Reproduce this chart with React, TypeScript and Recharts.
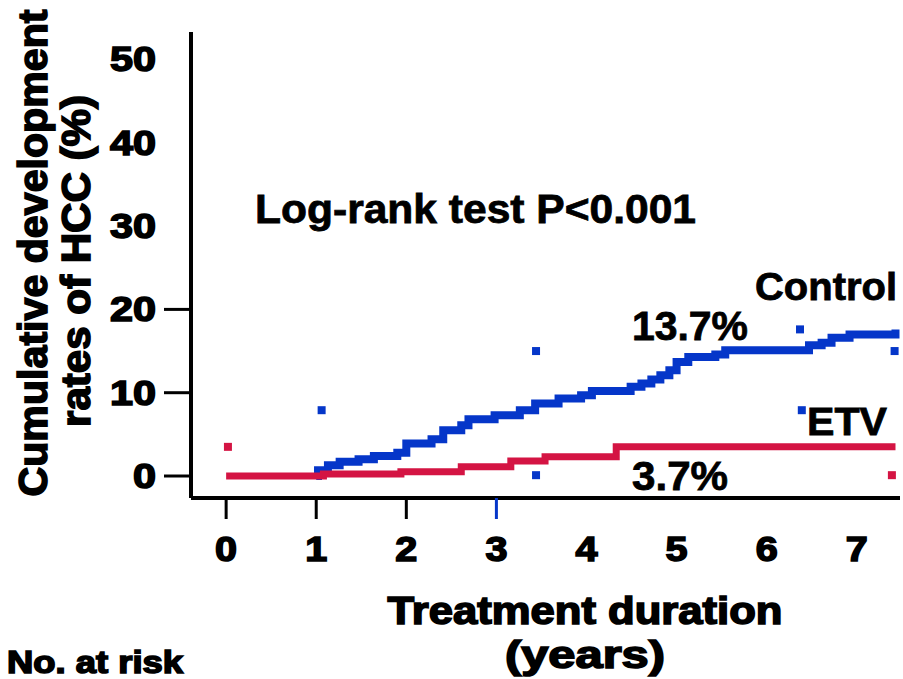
import { ComposedChart, Line, Scatter, XAxis, YAxis } from "recharts";

const BLUE = "#0536c9";
const RED = "#d41443";
const FONT = "'Liberation Sans', Arial, sans-serif";

// axis ticks
const xTicks = [0, 1, 2, 3, 4, 5, 6, 7];
const yTicks = [0, 10, 20, 30, 40, 50];

// Control group cumulative incidence (years, %)
const controlYears = [1.0, 1.02, 1.13, 1.26, 1.47, 1.64, 1.9, 2.0, 2.28, 2.41, 2.61, 2.69, 2.98, 3.26, 3.43, 3.69, 3.94, 4.06, 4.49, 4.61, 4.72, 4.82, 4.92, 5.0, 5.13, 5.43, 5.54, 6.41, 6.47, 6.61, 6.72, 6.92, 7.36, 7.43];
const controlRates = [0, 0.7, 1.3, 1.7, 2.0, 2.4, 2.8, 3.9, 4.4, 5.5, 6.1, 6.8, 7.3, 7.9, 8.7, 9.3, 9.7, 10.2, 10.7, 11.1, 11.6, 12.1, 12.7, 13.7, 14.3, 14.6, 15.1, 15.1, 15.7, 16.0, 16.6, 17.0, 17.0, 17.6];

// ETV group cumulative incidence (years, %)
const etvYears = [0, 1.08, 1.94, 2.61, 3.16, 3.54, 4.33, 7.43];
const etvRates = [0, 0.25, 0.5, 1.1, 1.8, 2.3, 3.5, 3.5];

// stray square markers
const controlMarkYears = [1.06, 3.44, 3.44, 6.37, 6.39, 7.42];
const controlMarkRates = [7.9, 15.0, 0.1, 17.6, 7.9, 15.0];
const etvMarkYears = [0.02, 7.39];
const etvMarkRates = [3.5, 0.1];

const control = controlYears.map((t, i) => ({ t, v: controlRates[i] }));
const etv = etvYears.map((t, i) => ({ t, v: etvRates[i] }));
const controlMarks = controlMarkYears.map((t, i) => ({ t, v: controlMarkRates[i] }));
const etvMarks = etvMarkYears.map((t, i) => ({ t, v: etvMarkRates[i] }));

const heavy = {
  fontFamily: FONT,
  fontWeight: 700,
  fill: "#000",
  stroke: "#000",
  strokeWidth: 1.6,
  lengthAdjust: "spacingAndGlyphs" as const,
};

const bold = {
  fontFamily: FONT,
  fontWeight: 700,
  fill: "#000",
  stroke: "#000",
  strokeWidth: 0.8,
  lengthAdjust: "spacingAndGlyphs" as const,
};

function XTick({ x, y, payload }: any) {
  const v = payload.value;
  return (
    <g>
      {v <= 3 && (
        <line x1={x} x2={x} y1={y} y2={y + 21} stroke={v === 3 ? BLUE : "#000"} strokeWidth={3} />
      )}
      <text x={x} y={y + 63} textAnchor="middle" fontSize={35} textLength={22} {...heavy}>
        {v}
      </text>
    </g>
  );
}

function YTick({ x, y, payload }: any) {
  const v = payload.value;
  const label = String(v);
  return (
    <g>
      {v <= 20 && <line x1={x - 27} x2={x} y1={y} y2={y} stroke="#000" strokeWidth={3} />}
      <text x={x - 35} y={y + 12} textAnchor="end" fontSize={35} textLength={23 * label.length} {...heavy}>
        {label}
      </text>
    </g>
  );
}

function Square({ cx, cy, fill }: any) {
  return <rect x={cx - 4} y={cy - 4} width={8} height={8} fill={fill} />;
}

export default function App() {
  return (
    <div style={{ position: "absolute", left: 0, top: 0, width: 903, height: 679, background: "#fff" }}>
      <ComposedChart width={903} height={679} margin={{ top: 32, right: 3, bottom: 151, left: 131 }}>
        <XAxis
          type="number"
          dataKey="t"
          domain={[-0.39, 7.48]}
          allowDataOverflow
          ticks={xTicks}
          height={30}
          tickSize={0}
          tickMargin={0}
          axisLine={{ stroke: "#000", strokeWidth: 4 }}
          tick={<XTick />}
          interval={0}
        />
        <YAxis
          type="number"
          dataKey="v"
          domain={[-2.64, 53.3]}
          allowDataOverflow
          ticks={yTicks}
          width={60}
          tickSize={0}
          tickMargin={0}
          axisLine={{ stroke: "#000", strokeWidth: 4 }}
          tick={<YTick />}
          interval={0}
        />
        <Line
          data={control}
          dataKey="v"
          type="stepAfter"
          stroke={BLUE}
          strokeWidth={8}
          dot={false}
          isAnimationActive={false}
        />
        <Line
          data={etv}
          dataKey="v"
          type="stepAfter"
          stroke={RED}
          strokeWidth={7}
          dot={false}
          isAnimationActive={false}
        />
        <Scatter data={controlMarks} dataKey="v" fill={BLUE} shape={<Square />} isAnimationActive={false} />
        <Scatter data={etvMarks} dataKey="v" fill={RED} shape={<Square />} isAnimationActive={false} />
      </ComposedChart>
      <svg
        width={903}
        height={679}
        style={{ position: "absolute", left: 0, top: 0, pointerEvents: "none" }}
      >
        <text transform="translate(47,253) rotate(-90)" textAnchor="middle" fontSize={40} textLength={487} {...heavy}>
          Cumulative development
        </text>
        <text transform="translate(90,261) rotate(-90)" textAnchor="middle" fontSize={40} textLength={332} {...heavy}>
          rates of HCC (%)
        </text>
        <text x={255} y={223} fontSize={41} textLength={441} {...bold}>
          Log-rank test P&lt;0.001
        </text>
        <text x={755} y={300} fontSize={39} textLength={142} {...bold}>
          Control
        </text>
        <text x={632} y={340} fontSize={40} textLength={116} {...bold}>
          13.7%
        </text>
        <text x={807} y={435} fontSize={39} textLength={80} {...bold}>
          ETV
        </text>
        <text x={632} y={490} fontSize={40} textLength={96} {...bold}>
          3.7%
        </text>
        <text x={585} y={624} textAnchor="middle" fontSize={38} textLength={395} {...heavy}>
          Treatment duration
        </text>
        <text x={585} y={668} textAnchor="middle" fontSize={38} textLength={160} {...heavy}>
          (years)
        </text>
        <text x={7} y={673} fontSize={31} textLength={176} {...heavy}>
          No. at risk
        </text>
      </svg>
    </div>
  );
}
